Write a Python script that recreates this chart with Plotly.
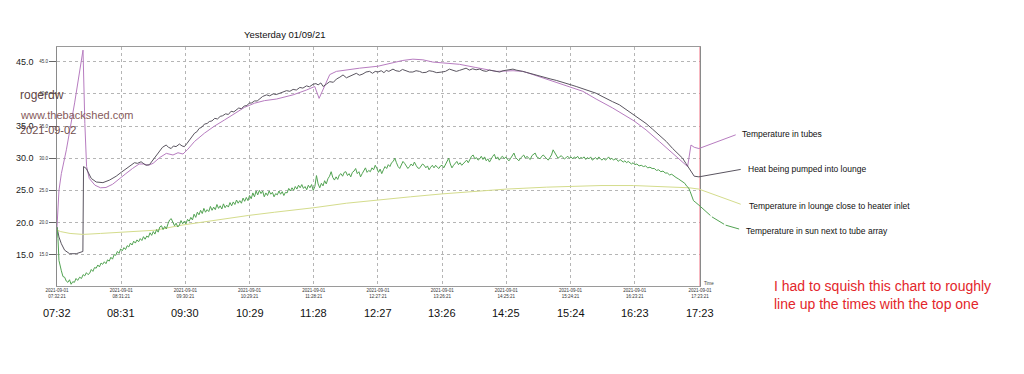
import plotly.graph_objects as go
import pandas as pd

START = pd.Timestamp("2021-09-01 07:32:21")
END = pd.Timestamp("2021-09-01 17:23:21")

# ---- data (minutes after 07:32:21, temperature) ----
tubes_min = [0, 1, 1.8, 4, 8.6, 16.2, 23.9, 25.6, 27.2, 29.7, 34.9, 40, 45, 51.1, 57.2, 63.3, 69.4,
             75.5, 79.8, 84, 88.3, 94.4, 100.5, 106.6, 111.2, 115.8, 120.3, 126.4, 135.6, 144.8,
             154, 163.1, 172.3, 181.5, 190.7, 201.8, 217.0, 229.3, 236.9, 240.9, 246.1, 250.7,
             256.8, 266, 278.2, 295, 308.8, 317.9, 327.1, 336.3, 345.4, 353.7, 369.9, 385,
             403.8, 419.1, 428.3, 437.5, 449.7, 461.9, 471.7, 483.3, 495.5, 510.8, 530.4,
             541.4, 553.6, 565.9, 575, 579.6, 582.7, 585.7, 590]
tubes_val = [19.3, 22.0, 25.0, 27.6, 31.3, 38.6, 46.8, 35.4, 28.7, 26.85, 25.8, 25.4, 25.45, 25.95,
             26.85, 27.6, 28.4, 29.1, 29.1, 28.9, 29.2, 30.1, 30.75, 30.5, 30.85, 30.65, 31.4,
             32.6, 33.9, 35.0, 35.95, 36.9, 37.9, 38.55, 38.95, 39.2, 39.85, 40.6, 41.15, 39.3,
             41.4, 43.0, 43.5, 43.75, 44.0, 44.3, 44.8, 45.2, 45.4, 45.3, 44.95, 44.8, 44.6,
             44.1, 43.5, 43.6, 43.5, 43.0, 42.3, 41.7, 41.15, 40.4, 39.2, 37.8, 35.8, 34.4,
             32.6, 30.75, 29.3, 28.7, 32.05, 31.7, 31.5]

pumped_min = [0, 1.8, 4, 7, 11.6, 17.7, 23.8, 24.4, 26.9, 31.5, 36.1, 42.2, 48.3, 54.4, 59, 63.6,
              67, 71.2, 74, 77.3, 80, 81.9, 85, 88, 91.1, 94, 97, 100.3, 102.5, 104.9, 107, 109.4,
              112.5, 115, 117.1, 119.5, 121.7, 124, 126.5, 128.5, 130.8, 133, 135.5, 138, 140,
              142.5, 145, 147.5, 150, 152.2, 155, 157.5, 160, 162.5, 164.5, 167, 169.5, 172,
              174.5, 176.7, 179, 181.5, 184, 186.5, 189, 192.6, 195.5, 198.7, 201.5, 204.8,
              207.5, 210.9, 214, 217.0, 220, 223.2, 226, 229.3, 232, 235.4, 238, 240, 242.5,
              244.6, 247.5, 250.7, 254, 256.8, 260, 262.9, 266, 269, 272, 275.1, 278, 281.2,
              284, 287.3, 290, 292.5, 295, 298, 300.5, 302.6, 305, 308.8, 311.5, 314.8, 317.5,
              320.9, 324, 327.1, 330, 333.2, 336, 339.3, 342, 345.4, 349, 353.7, 357, 360.7,
              364, 367, 369.9, 373, 376, 379, 382, 385.2, 388.5, 391.5, 394.6, 397.5, 400.7,
              403.5, 406.9, 410, 413, 416, 419.1, 422, 425.2, 428, 431.3, 434.5, 437.5, 440.5,
              443.6, 446.5, 449.7, 454, 458.9, 463.5, 468, 472.5, 477.2, 481.5, 486.4, 491,
              495.5, 500, 504.7, 510.5, 516.9, 523.5, 530.4, 536, 541.4, 547.5, 553.6, 560,
              565.9, 571, 575, 578, 581.2, 583.5, 585.7, 590]
pumped_val = [19.3, 17.75, 16.7, 15.7, 15.15, 15.15, 15.5, 28.7, 28.4, 26.85, 26.3, 26.2, 26.6,
              27.2, 27.8, 28.4, 28.9, 29.3, 29.2, 29.45, 29.1, 28.9, 29.0, 29.7, 30.5, 31.0,
              31.7, 32.05, 31.7, 31.5, 31.9, 31.8, 32.2, 31.9, 31.8, 32.3, 32.85, 33.3, 33.9,
              34.1, 34.65, 34.8, 35.3, 35.4, 35.7, 35.8, 36.2, 36.1, 36.5, 36.6, 36.9, 36.8,
              37.3, 37.2, 37.5, 37.8, 37.7, 38.1, 38.2, 38.55, 38.6, 38.9, 38.9, 39.3, 39.6,
              39.85, 39.7, 40.0, 39.9, 40.1, 40.3, 40.5, 40.4, 40.7, 40.6, 41.0, 40.9, 41.25,
              41.1, 41.5, 41.6, 41.4, 41.7, 41.15, 41.5, 41.9, 41.8, 42.3, 42.6, 42.95, 42.5,
              42.7, 43.0, 43.2, 42.9, 43.1, 43.4, 43.5, 43.2, 43.5, 43.4, 43.6, 43.3, 43.65,
              43.5, 43.85, 43.6, 43.5, 43.8, 43.65, 43.4, 43.4, 43.6, 43.5, 43.3, 43.35, 43.6,
              43.5, 43.3, 43.4, 43.5, 43.85, 43.6, 43.5, 43.65, 43.8, 44.0, 43.7, 43.9, 43.75,
              43.85, 43.6, 43.5, 43.7, 43.6, 43.4, 43.4, 43.6, 43.65, 43.8, 43.85, 43.7, 43.65,
              43.5, 43.35, 43.2, 43.1, 42.95, 42.7, 42.6, 42.45, 42.3, 42.1, 41.9, 41.7, 41.4,
              41.15, 40.9, 40.6, 40.4, 40.1, 39.7, 39.35, 38.8, 38.3, 37.5, 36.7, 36.0, 35.4,
              34.5, 33.6, 32.6, 31.5, 30.6, 30.0, 29.2, 28.4, 27.8, 27.2, 27.1]

lounge_min = [0, 3, 12, 24, 40, 60, 90, 115, 146, 176, 200, 236, 266, 295, 325, 354, 387, 413,
              450, 472, 500, 530, 566, 581, 590]
lounge_val = [18.9, 18.6, 18.3, 18.15, 18.3, 18.5, 18.8, 19.6, 20.4, 21.1, 21.6, 22.3, 23.0,
              23.55, 24.0, 24.45, 24.9, 25.2, 25.5, 25.65, 25.75, 25.75, 25.55, 25.4, 25.2]

sun_min = [0, 0.9, 1.8, 3, 4, 5.5, 7, 8.5, 10, 11.5, 13, 14.5, 16, 17.5, 19, 20.8, 22.5, 24, 25.5,
           27, 28.5, 30, 31.5, 33, 34.5, 36, 37.5, 39, 40.5, 42, 43.5, 45, 46.5, 48, 49.5, 51,
           52.5, 54, 55.5, 57, 58.5, 60, 61.5, 63, 64.5, 66, 67.5, 69, 70.5, 72, 73.5, 75, 76.5,
           78, 79.5, 81, 82.5, 84, 85.5, 87, 88.5, 90, 91.5, 93, 94.5, 96, 97.5, 99, 100.5,
           102, 103.5, 105, 106.5, 108, 109.5, 111, 112.5, 114, 115.5, 117, 118.5, 120, 121.5,
           123, 124.5, 126, 127.5, 129, 130.5, 132, 133.5, 135, 136.5, 138, 139.5, 141, 142.5,
           144, 145.5, 147, 148.5, 150, 151.5, 153, 154.5, 156, 157.5, 159, 160.5, 162, 163.5,
           165, 166.5, 168, 169.5, 171, 172.5, 174, 175.5, 177, 178.5, 180, 181.5, 183, 184.5,
           186, 187.5, 189, 190.5, 192, 193.5, 195, 196.5, 198, 199.5, 201, 202.5, 204, 205.5,
           207, 208.5, 210, 211.5, 213, 214.5, 216, 217.5, 219, 220.5, 222, 223.5, 225, 226.5,
           228, 229.5, 231, 232.5, 234, 235.5, 237, 238.5, 240, 241.5, 243, 244.5, 246, 247.5,
           249, 250.5, 252, 253.5, 255, 256.5, 258, 259.5, 261, 262.5, 264, 265.5, 267, 268.5,
           270, 271.5, 273, 274.5, 276, 277.5, 279, 280.5, 282, 283.5, 285, 286.5, 288, 289.5,
           291, 292.5, 294, 295.5, 297, 298.5, 300, 301.5, 303, 304.5, 306, 307.5, 309, 310.5,
           312, 313.5, 315, 316.5, 318, 319.5, 321, 322.5, 324, 325.5, 327, 328.5, 330, 331.5,
           333, 334.5, 336, 337.5, 339, 340.5, 342, 343.5, 345, 346.5, 348, 349.5, 351, 352.5,
           354, 355.5, 357, 358.5, 360, 361.5, 363, 364.5, 366, 367.5, 369, 370.5, 372, 373.5,
           375, 376.5, 378, 379.5, 381, 382.5, 384, 385.5, 387, 388.5, 390, 391.5, 393, 394.5,
           396, 397.5, 399, 400.5, 402, 403.5, 405, 406.5, 408, 409.5, 411, 412.5, 414, 415.5,
           417, 418.5, 420, 421.5, 423, 424.5, 426, 427.5, 429, 430.5, 432, 433.5, 435, 436.5,
           438, 439.5, 441, 442.5, 444, 445.5, 447, 448.5, 450, 451.5, 453, 454.5, 456, 457.5,
           459, 460.5, 462, 463.5, 465, 466.5, 468, 469.5, 471, 472.5, 474, 475.5, 477, 478.5,
           480, 481.5, 483, 484.5, 486, 487.5, 489, 490.5, 492, 493.5, 495, 496.5, 498, 499.5,
           501, 502.5, 504, 505.5, 507, 508.5, 510, 511.5, 513, 514.5, 516, 517.5, 519, 520.5,
           522, 523.5, 525, 526.5, 528, 529.5, 531, 533, 535, 537, 539, 541, 543, 545, 547, 549,
           551, 553, 555, 557, 559, 561, 563, 565, 567, 569, 571, 573, 575, 577, 579, 580.5, 582,
           583.5, 585, 586.5, 588, 590]
sun_val = [19.3, 17.5, 14.1, 13.0, 12.5, 11.6, 11.5, 10.9, 10.7, 11.1, 10.4, 10.8, 10.7, 11.3,
           11.0, 11.5, 11.3, 11.9, 11.7, 12.2, 11.9, 12.1, 12.7, 12.4, 13.0, 12.9, 13.4, 13.1,
           13.7, 13.5, 13.9, 13.6, 14.2, 14.0, 14.6, 14.3, 15.0, 14.9, 15.5, 15.2, 15.9, 15.6,
           16.1, 15.8, 16.4, 16.2, 16.8, 16.5, 17.1, 16.8, 17.3, 17.0, 17.5, 17.2, 17.8, 17.4,
           17.9, 17.7, 18.4, 18.0, 18.6, 18.2, 18.9, 18.5, 19.3, 19.5, 18.9, 19.4, 19.0, 19.8,
           20.4, 20.6, 20.1, 19.5, 19.9, 19.3, 19.6, 20.3, 19.8, 20.2, 19.8, 20.5, 20.2, 20.8,
           20.4, 21.3, 20.8, 21.6, 21.2, 21.9, 21.4, 22.2, 21.6, 22.0, 21.7, 22.5, 21.9, 22.4,
           22.0, 22.8, 22.2, 22.6, 22.1, 22.9, 22.3, 22.7, 22.4, 23.1, 22.6, 23.2, 22.8, 23.5,
           23.0, 23.4, 23.0, 23.8, 23.3, 23.9, 23.4, 24.2, 23.7, 24.6, 24.0, 24.9, 24.3, 25.0,
           24.5, 24.9, 24.0, 24.6, 24.2, 24.9, 24.4, 24.7, 24.0, 24.5, 24.3, 24.9, 24.4, 24.8,
           24.2, 24.7, 24.6, 25.3, 24.9, 25.4, 25.0, 25.6, 25.2, 25.8, 25.4, 25.9, 25.3, 25.6,
           25.1, 25.8, 25.4, 25.9, 25.0, 25.6, 27.3, 26.0, 25.4, 26.1, 25.7, 26.5, 26.0, 26.8,
           27.2, 27.9, 27.0, 26.6, 27.1, 26.7, 27.4, 27.6, 27.2, 27.8, 27.9, 27.3, 27.6, 27.1,
           27.8, 28.0, 28.4, 27.6, 27.9, 27.1, 27.6, 28.0, 28.5, 27.8, 28.1, 27.9, 28.5, 28.2,
           28.9, 28.4, 27.8, 28.3, 27.6, 28.2, 28.7, 28.4, 29.0, 28.7, 29.3, 29.5, 30.0, 29.3,
           28.7, 28.4, 28.9, 29.5, 29.2, 28.8, 28.4, 28.7, 29.1, 28.8, 29.4, 28.9, 28.5, 28.4,
           28.8, 29.1, 28.9, 28.5, 28.8, 28.2, 28.6, 28.9, 28.5, 28.9, 28.6, 28.4, 28.8, 28.9,
           28.5, 29.0, 29.4, 30.0, 29.1, 28.5, 28.9, 29.2, 29.5, 29.0, 29.3, 28.9, 29.2, 29.5,
           29.7, 29.3, 29.8, 30.3, 30.5, 29.9, 30.1, 29.7, 29.9, 30.3, 29.8, 30.2, 29.6, 29.9,
           29.4, 30.0, 30.3, 30.6, 29.9, 30.2, 29.7, 30.1, 30.3, 29.9, 30.2, 29.8, 29.6, 30.0,
           30.4, 30.8, 30.1, 29.8, 29.6, 30.0, 30.3, 30.5, 30.0, 30.3, 30.0, 29.8, 30.4, 30.6,
           30.8, 30.2, 30.0, 29.9, 30.3, 30.5, 30.2, 29.9, 29.7, 30.1, 30.5, 31.3, 30.8, 30.4,
           30.0, 30.2, 30.4, 30.1, 29.9, 30.1, 30.3, 30.0, 30.2, 29.9, 30.2, 30.0, 30.3, 29.9,
           30.1, 30.0, 30.2, 29.8, 30.1, 29.9, 30.2, 29.7, 29.9, 30.1, 29.8, 30.2, 29.9, 29.7,
           30.0, 29.7, 29.9, 30.2, 29.8, 30.0, 29.7, 29.9, 29.8, 29.5, 29.8, 29.6, 29.4, 29.6,
           29.3, 29.5, 29.3, 29.1, 29.3, 29.0, 29.1, 28.8, 28.9, 28.7, 28.8, 28.5, 28.6, 28.4,
           28.4, 28.1, 28.2, 27.9, 28.0, 27.7, 27.7, 27.4, 27.5, 27.2, 27.0, 26.8, 26.6, 26.3,
           26.1, 25.6, 25.4, 24.8, 24.0, 23.4, 23.2, 23.0, 22.7]

tick_times = ["07:32:21", "08:31:21", "09:30:21", "10:29:21", "11:28:21", "12:27:21",
              "13:26:21", "14:25:21", "15:24:21", "16:23:21", "17:23:21"]
tick_short = ["07:32", "08:31", "09:30", "10:29", "11:28", "12:27", "13:26", "14:25",
              "15:24", "16:23", "17:23"]
y_ticks = [15, 20, 25, 30, 35, 40, 45]
big_y_labels = ["15.0", "20.0", "25.0", "30.0", "35.0", "45.0"]
big_y_vals = [15, 20, 25, 30, 35, 45]

series = [
    ("Temperature in tubes", tubes_min, tubes_val, "#b77cc0"),
    ("Heat being pumped into lounge", pumped_min, pumped_val, "#5a5560"),
    ("Temperature in lounge close to heater inlet", lounge_min, lounge_val, "#d4dc8c"),
    ("Temperature in sun next to tube array", sun_min, sun_val, "#52a352"),
]

FONT = "Liberation Sans, Arial, sans-serif"


def to_time(mins):
    return [START + pd.Timedelta(minutes=m) for m in mins]


fig = go.Figure()
for name, mins, vals, color in series:
    fig.add_trace(go.Scatter(x=to_time(mins), y=vals, mode="lines", name=name,
                             line=dict(color=color, width=1), hoverinfo="skip"))

tick_vals = [pd.Timestamp("2021-09-01 " + t) for t in tick_times]
tick_text = ["2021-09-01<br>" + t for t in tick_times]

annotations = []
# title
annotations.append(dict(text="Yesterday 01/09/21", xref="paper", yref="paper", x=0.355, y=1,
                        yanchor="bottom", yshift=5, showarrow=False,
                        font=dict(family=FONT, size=9.5, color="#111")))
# big time labels
for tv, ts in zip(tick_vals, tick_short):
    annotations.append(dict(text=ts, xref="x", yref="paper", x=tv, y=0, yanchor="top",
                            yshift=-19, showarrow=False,
                            font=dict(family=FONT, size=11, color="#111")))
# big y labels
for lab, v in zip(big_y_labels, big_y_vals):
    annotations.append(dict(text=lab, xref="paper", yref="y", x=-0.049, y=v, xanchor="center",
                            yanchor="middle", showarrow=False,
                            font=dict(family=FONT, size=9, color="#222")))
# watermark and notes
annotations += [
    dict(text="rogerdw", xref="paper", yref="paper", x=-0.0607, y=0.80, xanchor="left",
         yanchor="middle", showarrow=False, font=dict(family=FONT, size=12, color="#5e4444")),
    dict(text="www.thebackshed.com", xref="paper", yref="paper", x=-0.0607, y=0.7135,
         xanchor="left", yanchor="middle", showarrow=False,
         font=dict(family=FONT, size=11, color="#865a5a")),
    dict(text="2021-09-02", xref="paper", yref="paper", x=-0.0607, y=0.6535, xanchor="left",
         yanchor="middle", showarrow=False, font=dict(family=FONT, size=11, color="#6e4c4c")),
    dict(text="Time", xref="paper", yref="paper", x=1.0147, y=0.011, xanchor="center",
         yanchor="middle", showarrow=False, font=dict(family=FONT, size=4.5, color="#444")),
    dict(text="I had to squish this chart to roughly<br>line up the times with the top one",
         xref="paper", yref="paper", x=1.1125, y=-0.0356, xanchor="left", yanchor="middle",
         align="left", showarrow=False, font=dict(family=FONT, size=14, color="#e3262b")),
]

# leader lines + labels  (segments: (xshift, yshift, ax, ay)), label (xshift, yshift)
leaders = [
    ([(0, 0, 38.3, -14.3)], (41, 14.3)),
    ([(0, 0, 43.3, -7.7)], (46.7, 7.7)),
    ([(0, 0, 43.3, 15.7)], (47.7, -17.4)),
    ([(0, 0, 13, 11.7), (13, -11.7, 13.7, 8.3), (26.7, -20, 15, 4.3)], (45, -26)),
]
for (name, mins, vals, color), (segs, (lx, ly)) in zip(series, leaders):
    end_x = START + pd.Timedelta(minutes=mins[-1])
    end_y = vals[-1]
    for xs, ys, ax, ay in segs:
        annotations.append(dict(text=" ", xref="x", yref="y", x=end_x, y=end_y,
                                xshift=xs, yshift=ys, ax=ax, ay=ay, showarrow=True,
                                arrowhead=0, arrowwidth=1, arrowcolor=color,
                                font=dict(size=1)))
    annotations.append(dict(text=name, xref="x", yref="y", x=end_x, y=end_y, xshift=lx,
                            yshift=ly, xanchor="left", yanchor="middle", showarrow=False,
                            font=dict(family=FONT, size=8.5, color="#111")))

shapes = [
    dict(type="line", xref="x", yref="paper", x0=END, x1=END, y0=0, y1=1,
         line=dict(color="#f07082", width=1)),
    dict(type="line", xref="paper", yref="paper", x0=1.493, x1=1.493, y0=-0.37, y1=1.2,
         line=dict(color="#ececec", width=1)),
]

# the page body adds an 8px offset, so the figure is 8px smaller and shifted accordingly
fig.update_layout(
    width=1016, height=366,
    margin=dict(l=49, r=324, t=39, b=88),
    paper_bgcolor="white", plot_bgcolor="white",
    showlegend=False,
    font=dict(family=FONT),
    annotations=annotations,
    shapes=shapes,
    xaxis=dict(type="date", range=[START, END], tickvals=tick_vals, ticktext=tick_text,
               tickfont=dict(size=4.5, color="#333"), ticks="", showline=True, mirror=True,
               linecolor="#9a9a9a", linewidth=1, showgrid=True, gridcolor="#b5b5b5",
               griddash="3px,3px", gridwidth=1, zeroline=False, tickangle=0),
    yaxis=dict(range=[10.13, 47.29], tickvals=y_ticks, ticktext=[f"{v:.1f}" for v in y_ticks],
               tickfont=dict(size=4.5, color="#333"), ticks="outside", ticklen=7,
               tickcolor="#666", showline=True, mirror=True, linecolor="#8a8a8a", linewidth=1,
               showgrid=True, gridcolor="#b5b5b5", griddash="3px,3px", gridwidth=1,
               zeroline=False),
)

fig.write_html("out.html")
